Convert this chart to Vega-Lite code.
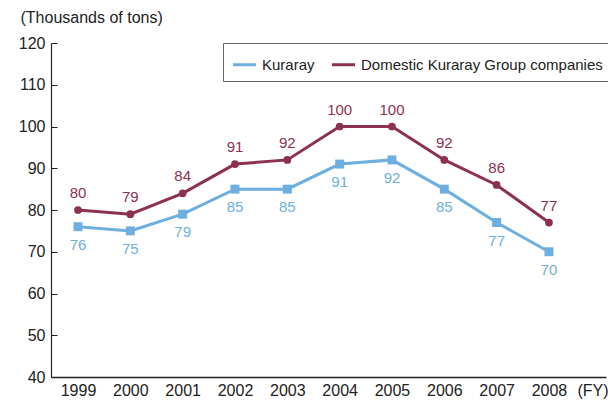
{
  "$schema": "https://vega.github.io/schema/vega-lite/v6.json",
  "width": 555,
  "height": 334,
  "padding": {"left": 51, "top": 43, "right": 2, "bottom": 28},
  "autosize": {"type": "none"},
  "background": "white",
  "config": {
    "view": {"stroke": null},
    "font": "Liberation Sans",
    "axis": {"labelFont": "Liberation Sans", "titleFont": "Liberation Sans"}
  },
  "data": {
    "values": [
      {"year": 1999, "series": "Kuraray", "value": 76},
      {"year": 2000, "series": "Kuraray", "value": 75},
      {"year": 2001, "series": "Kuraray", "value": 79},
      {"year": 2002, "series": "Kuraray", "value": 85},
      {"year": 2003, "series": "Kuraray", "value": 85},
      {"year": 2004, "series": "Kuraray", "value": 91},
      {"year": 2005, "series": "Kuraray", "value": 92},
      {"year": 2006, "series": "Kuraray", "value": 85},
      {"year": 2007, "series": "Kuraray", "value": 77},
      {"year": 2008, "series": "Kuraray", "value": 70},
      {"year": 1999, "series": "Domestic Kuraray Group companies", "value": 80},
      {"year": 2000, "series": "Domestic Kuraray Group companies", "value": 79},
      {"year": 2001, "series": "Domestic Kuraray Group companies", "value": 84},
      {"year": 2002, "series": "Domestic Kuraray Group companies", "value": 91},
      {"year": 2003, "series": "Domestic Kuraray Group companies", "value": 92},
      {"year": 2004, "series": "Domestic Kuraray Group companies", "value": 100},
      {"year": 2005, "series": "Domestic Kuraray Group companies", "value": 100},
      {"year": 2006, "series": "Domestic Kuraray Group companies", "value": 92},
      {"year": 2007, "series": "Domestic Kuraray Group companies", "value": 86},
      {"year": 2008, "series": "Domestic Kuraray Group companies", "value": 77}
    ]
  },
  "encoding": {
    "x": {
      "field": "year", "type": "quantitative",
      "scale": {"domain": [1998.484, 2009.09], "nice": false, "zero": false},
      "axis": {
        "values": [1999, 2000, 2001, 2002, 2003, 2004, 2005, 2006, 2007, 2008],
        "format": "d", "grid": false, "ticks": false,
        "domainColor": "#222", "domainWidth": 1.5,
        "labelFontSize": 16, "labelColor": "#222", "labelPadding": 5,
        "title": "(FY)", "titleFontSize": 16, "titleFontWeight": "normal", "titleColor": "#222",
        "titleAlign": "left", "titleAnchor": "start", "titleX": 526, "titleY": 5, "titleBaseline": "top"
      }
    },
    "y": {
      "field": "value", "type": "quantitative",
      "scale": {"domain": [40, 120], "nice": false, "zero": false},
      "axis": {
        "values": [40, 50, 60, 70, 80, 90, 100, 110, 120],
        "grid": false, "tickSize": -6, "tickColor": "#222", "tickWidth": 1,
        "domainColor": "#222", "domainWidth": 1.2,
        "labelFontSize": 16, "labelColor": "#222", "labelPadding": 12,
        "title": "(Thousands of tons)", "titleFontSize": 16, "titleFontWeight": "normal", "titleColor": "#222",
        "titleAngle": 0, "titleAlign": "left", "titleAnchor": "start", "titleBaseline": "alphabetic",
        "titleX": -31, "titleY": -21
      }
    }
  },
  "layer": [
    {
      "mark": {"type": "line", "strokeWidth": 3},
      "encoding": {
        "color": {
          "field": "series", "type": "nominal",
          "scale": {"domain": ["Kuraray", "Domestic Kuraray Group companies"], "range": ["#6cafe0", "#8c3152"]},
          "legend": {
            "title": null, "orient": "none", "legendX": 172, "legendY": 0,
            "direction": "horizontal", "symbolType": "stroke", "symbolStrokeWidth": 3, "symbolSize": 530,
            "labelFontSize": 15, "labelColor": "#222", "labelLimit": 400, "labelOffset": 4, "columnPadding": 10,
            "strokeColor": "#666", "fillColor": "white", "padding": 8
          }
        }
      }
    },
    {
      "transform": [{"filter": "datum.series === 'Kuraray'"}],
      "mark": {"type": "point", "shape": "square", "filled": true, "size": 80, "opacity": 1, "color": "#6cafe0"},
      "encoding": {}
    },
    {
      "transform": [{"filter": "datum.series !== 'Kuraray'"}],
      "mark": {"type": "point", "shape": "circle", "filled": true, "size": 60, "opacity": 1, "color": "#8c3152"},
      "encoding": {}
    },
    {
      "transform": [{"filter": "datum.series === 'Kuraray'"}],
      "mark": {"type": "text", "dy": 18, "fontSize": 15, "color": "#6cafe0"},
      "encoding": {"text": {"field": "value", "type": "quantitative"}}
    },
    {
      "transform": [{"filter": "datum.series !== 'Kuraray'"}],
      "mark": {"type": "text", "dy": -17, "fontSize": 15, "color": "#8c3152"},
      "encoding": {"text": {"field": "value", "type": "quantitative"}}
    }
  ]
}
